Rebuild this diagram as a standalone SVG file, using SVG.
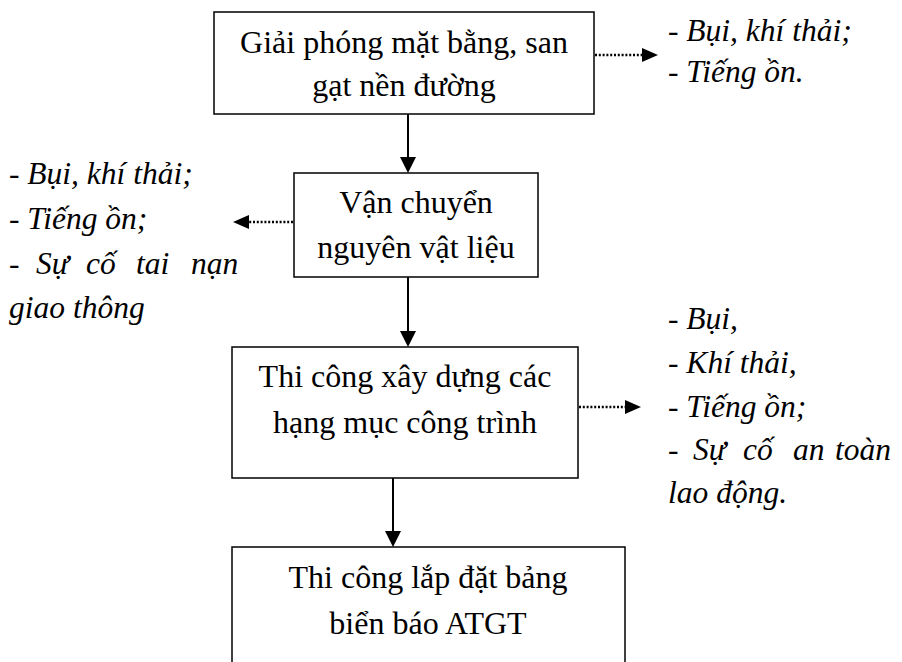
<svg xmlns="http://www.w3.org/2000/svg" width="902" height="662" viewBox="0 0 902 662">
<style>
  .box { fill: #fff; stroke: #000; stroke-width: 1.5; }
  .t { font-family: "Liberation Serif", "Times New Roman", serif; font-size: 32px; fill: #000; text-anchor: middle; }
  .it { font-family: "Liberation Serif", "Times New Roman", serif; font-size: 31.5px; font-style: italic; fill: #000; }
  .solid { stroke: #000; stroke-width: 2; fill: none; }
  .dot { stroke: #000; stroke-width: 2.6; stroke-dasharray: 2 1.8; fill: none; }
</style>
<defs>
  <marker id="ah" markerWidth="16" markerHeight="16" refX="6" refY="8" orient="auto" markerUnits="userSpaceOnUse">
    <path d="M0,0 L16,8 L0,16 Z" fill="#000"/>
  </marker>
  <marker id="ahd" markerWidth="16" markerHeight="14" refX="5" refY="7" orient="auto" markerUnits="userSpaceOnUse">
    <path d="M0,0 L16,7 L0,14 Z" fill="#000"/>
  </marker>
</defs>
<rect width="902" height="662" fill="#fff"/>

<g id="connectors">
  <line class="solid" x1="408" y1="114" x2="408" y2="163" marker-end="url(#ah)"/>
  <line class="solid" x1="408" y1="277" x2="408" y2="337" marker-end="url(#ah)"/>
  <line class="solid" x1="393" y1="478" x2="393" y2="537" marker-end="url(#ah)"/>
  <line class="dot" x1="595" y1="55" x2="647" y2="55" marker-end="url(#ahd)"/>
  <line class="dot" x1="293" y1="222" x2="244" y2="222" marker-end="url(#ahd)"/>
  <line class="dot" x1="579" y1="407" x2="630" y2="407" marker-end="url(#ahd)"/>
</g>

<g id="node1">
  <rect class="box" x="214" y="12" width="380" height="102"/>
  <text class="t" x="404" y="53">Giải phóng mặt bằng, san</text>
  <text class="t" x="404" y="96">gạt nền đường</text>
</g>

<g id="node2">
  <rect class="box" x="294" y="173" width="244" height="104"/>
  <text class="t" x="416" y="213">Vận chuyển</text>
  <text class="t" x="416" y="258">nguyên vật liệu</text>
</g>

<g id="node3">
  <rect class="box" x="232" y="347" width="346" height="131"/>
  <text class="t" x="405" y="387">Thi công xây dựng các</text>
  <text class="t" x="405" y="433">hạng mục công trình</text>
</g>

<g id="node4">
  <rect class="box" x="232" y="547" width="393" height="140"/>
  <text class="t" x="428" y="588">Thi công lắp đặt bảng</text>
  <text class="t" x="428" y="634">biển báo ATGT</text>
</g>

<g id="impact1">
  <text class="it" x="668" y="41">- Bụi, khí thải;</text>
  <text class="it" x="668" y="82">- Tiếng ồn.</text>
</g>

<g id="impact2">
  <text class="it" x="9" y="184">- Bụi, khí thải;</text>
  <text class="it" x="9" y="229">- Tiếng ồn;</text>
  <text class="it" y="274"><tspan x="9">-</tspan><tspan x="36">Sự</tspan><tspan x="86">cố</tspan><tspan x="136">tai</tspan><tspan x="191">nạn</tspan></text>
  <text class="it" x="9" y="318">giao thông</text>
</g>

<g id="impact3">
  <text class="it" x="668" y="329">- Bụi,</text>
  <text class="it" x="668" y="373">- Khí thải,</text>
  <text class="it" x="668" y="417">- Tiếng ồn;</text>
  <text class="it" y="460"><tspan x="668">-</tspan><tspan x="693">Sự</tspan><tspan x="743">cố</tspan><tspan x="793">an</tspan><tspan x="835">toàn</tspan></text>
  <text class="it" x="668" y="503">lao động.</text>
</g>
</svg>
